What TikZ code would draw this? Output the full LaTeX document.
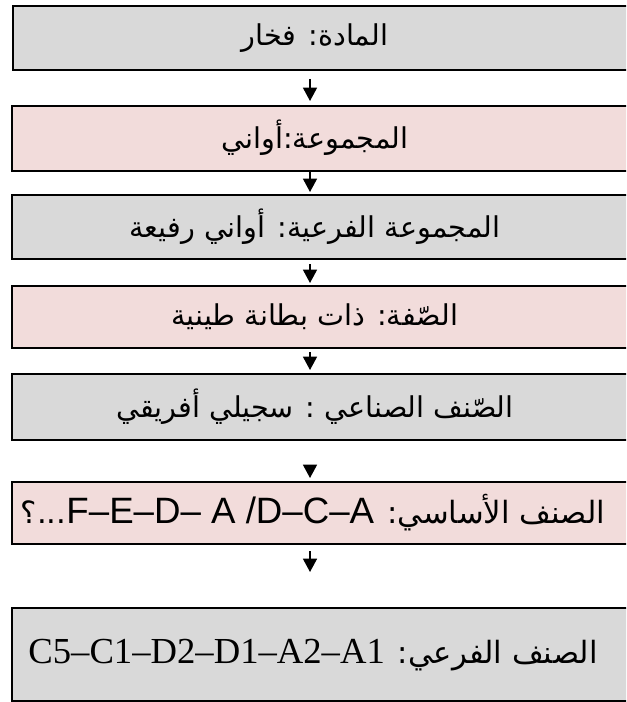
\documentclass[tikz,border=0pt]{standalone}
\usepackage{fontspec}
\setmainfont{Liberation Serif}
\newfontfamily\arabicfont[Script=Arabic]{DejaVu Sans}
\newfontfamily\arialfont{Liberation Sans}
\TeXXeTstate=1
\usetikzlibrary{arrows.meta}
\definecolor{boxgrey}{HTML}{D9D9D9}
\definecolor{boxpink}{HTML}{F2DCDB}
\newcommand{\latinsize}{\fontsize{27.5}{32}\selectfont}

\begin{document}
\begin{tikzpicture}[x=0.75pt, y=-0.75pt,
	box/.style={draw=black, line width=1.5pt, anchor=north west, minimum width=495pt, inner sep=0pt},
	greybox/.style={box, fill=boxgrey},
	pinkbox/.style={box, fill=boxpink},
	lbl/.style={inner sep=0pt, font=\arabicfont\fontsize{21.5}{26}\selectfont},
	biglbl/.style={lbl, font=\arabicfont\fontsize{23}{28}\selectfont},
	arr/.style={-{Triangle[length=10pt, width=10.5pt]}, line width=1.1pt}]
		\useasboundingbox (0,0) rectangle (626,702);
		\clip (0,0) rectangle (626,702);
		% boxes
		\node[greybox, minimum height=48pt] (b1) at (12,5) {};
		\node[pinkbox, minimum height=48.75pt] (b2) at (11,105) {};
		\node[greybox, minimum height=48pt] (b3) at (11,194) {};
		\node[pinkbox, minimum height=46.5pt] (b4) at (11,285) {};
		\node[greybox, minimum height=49.5pt] (b5) at (11,373) {};
		\node[pinkbox, minimum height=46.5pt] (b6) at (11,481) {};
		\node[greybox, minimum height=69.75pt] (b7) at (11,607) {};
		% texts
		\node[lbl] (t1) at (315,38) {\beginR المادة: فخار\endR};
		\node[lbl] (t2) at (315,138) {\beginR المجموعة:أواني\endR};
		\node[lbl] (t3) at (315,227) {\beginR المجموعة الفرعية: أواني رفيعة\endR};
		\node[lbl] (t4) at (315,317) {\beginR الصّفة: ذات بطانة طينية\endR};
		\node[lbl] (t5) at (315,407) {\beginR الصّنف الصناعي : سجيلي أفريقي\endR};
		\node[biglbl] (t6) at (313,513) {\beginR الصنف الأساسي: \beginL{\arialfont\latinsize F–E–D– A /D–C–A}\endL...؟\endR};
		\node[biglbl] (t7) at (313,655) {\beginR الصنف الفرعي: \beginL{\rmfamily\latinsize C5–C1–D2–D1–A2–A1}\endL\endR};
		% arrows
		\coordinate (ax) at (310,0);
		\draw[arr, shorten <=6pt, shorten >=3pt] (b1.south -| ax) -- (b2.north -| ax);
		\draw[arr, shorten >=1.5pt] (b2.south -| ax) -- (b3.north -| ax);
		\draw[arr, shorten <=3pt, shorten >=1.5pt] (b3.south -| ax) -- (b4.north -| ax);
		\draw[arr, shorten <=2.25pt, shorten >=2.25pt] (b4.south -| ax) -- (b5.north -| ax);
		\draw[arr, shorten <=18pt, shorten >=2.25pt] (b5.south -| ax) -- (b6.north -| ax);
		\draw[arr, shorten <=4.5pt, shorten >=26.25pt] (b6.south -| ax) -- (b7.north -| ax);
\end{tikzpicture}
\end{document}
